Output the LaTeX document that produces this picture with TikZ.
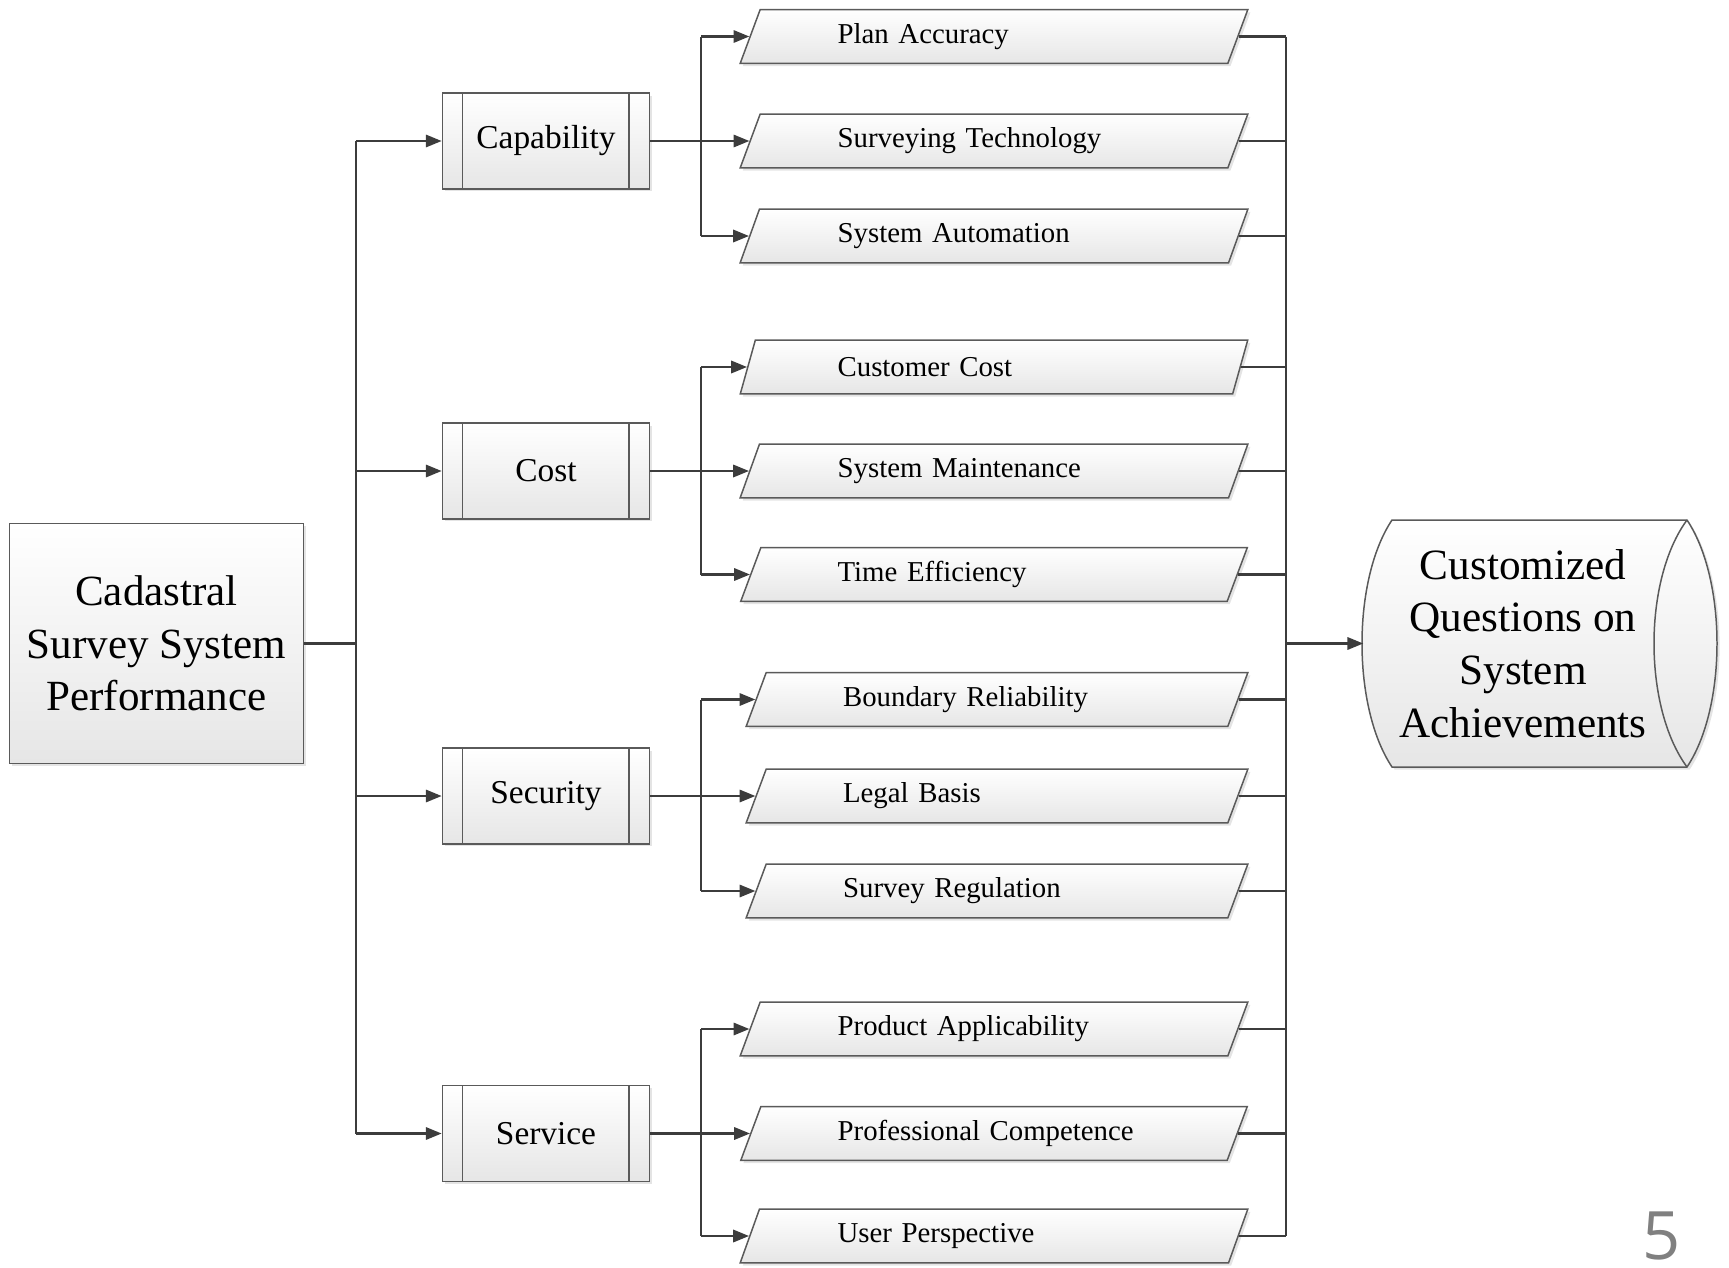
\documentclass[tikz,border=0pt]{standalone}
\usepackage{fontspec}
\setmainfont{Liberation Serif}
\newfontfamily\numfont{Open Sans}
\usetikzlibrary{shapes.geometric,arrows.meta,shadows}
\definecolor{linecol}{RGB}{60,60,60}
\definecolor{boxcol}{RGB}{90,90,90}
\definecolor{fillbot}{RGB}{230,230,230}
\definecolor{pagecol}{RGB}{128,128,128}
\tikzset{
  lw/.style={line width=1.3pt, draw=linecol},
  arr/.style={lw, -{Triangle[length=9pt,width=7pt]}},
  boxfill/.style={draw=boxcol, line width=0.85pt, top color=white, bottom color=fillbot,
    drop shadow={shadow xshift=1.5pt, shadow yshift=-1.5pt, opacity=0.3, fill=gray!70}},
  mainbox/.style={boxfill, rectangle, minimum width=167.2pt, minimum height=136.6pt,
    inner sep=0pt, align=center, font=\fontsize{24.5}{30}\selectfont},
  subbox/.style={boxfill, rectangle, minimum width=117.9pt, minimum height=54.4pt,
    inner sep=0pt, font=\fontsize{19}{23}\selectfont,
    path picture={
      \draw[boxcol, line width=0.85pt] ([xshift=11.3pt]path picture bounding box.north west) -- ([xshift=11.3pt]path picture bounding box.south west);
      \draw[boxcol, line width=0.85pt] ([xshift=-11.6pt]path picture bounding box.north east) -- ([xshift=-11.6pt]path picture bounding box.south east);
    }},
  para/.style={boxfill, trapezium, trapezium left angle=63, trapezium right angle=117,
    trapezium stretches=true, minimum width=289.1pt, minimum height=30.6pt,
    inner sep=0pt, text width=178pt, align=left, font=\fontsize{16.4}{20}\selectfont},
  paras/.style={para, minimum width=285.7pt, text width=175.2pt},
}
\begin{document}
\begin{tikzpicture}[x=0.02cm, y=-0.02cm]
\useasboundingbox (0,0) rectangle (1729,1268);

% main box
\node[mainbox] (main) at (156.5,643.5) {Cadastral\\Survey System\\Performance};

% second level
\node[subbox] (cap) at (546,141) {Capability};
\node[subbox] (cost) at (546,471) {Cost};
\node[subbox] (sec) at (546,796) {Security};
\node[subbox] (srv) at (546,1133.5) {Service};

% third level
\node[para] (p1) at (994,36.5) {Plan Accuracy};
\node[para] (p2) at (994,141) {Surveying Technology};
\node[para] (p3) at (994,236) {System Automation};
\node[para] (p4) at (994,367) {Customer Cost};
\node[para] (p5) at (994,471) {System Maintenance};
\node[para] (p6) at (994,574.5) {Time Efficiency};
\node[paras] (p7) at (997,699.5) {Boundary Reliability};
\node[paras] (p8) at (997,796) {Legal Basis};
\node[paras] (p9) at (997,891) {Survey Regulation};
\node[para] (p10) at (994,1029) {Product Applicability};
\node[para] (p11) at (994,1133.5) {Professional Competence};
\node[para] (p12) at (994,1236) {User Perspective};

% output shape
\path[boxfill] (1392,520) -- (1687,520) .. controls (1727,580) and (1727,707) .. (1687,767)
  -- (1392,767) .. controls (1352,707) and (1352,580) .. (1392,520) -- cycle;
\draw[boxcol, line width=0.85pt] (1687,520) .. controls (1643,580) and (1643,707) .. (1687,767);
\node[minimum width=181.4pt, minimum height=140pt, inner sep=0pt, align=center,
  font=\fontsize{24.6}{30}\selectfont] (out) at (1523,643.5)
  {Customized\\Questions on\\System\\Achievements};

% page number
\node[font=\numfont\fontsize{38}{40}\selectfont, text=pagecol, inner sep=0pt] (pg) at (1662,1236) {5};

% trunks
\coordinate (lt) at (356,643.5);
\coordinate (bx) at (701,0);
\coordinate (rt) at (1286,643.5);

% main -> second level
\draw[lw] (main.east) -- (lt);
\draw[lw] (cap.west -| lt) -- (srv.west -| lt);
\foreach \n in {cap,cost,sec,srv}{
  \draw[arr] (\n.west -| lt) -- (\n.west);
}

% second -> third level
\foreach \s/\a/\b/\c in {cap/p1/p2/p3, cost/p4/p5/p6, sec/p7/p8/p9, srv/p10/p11/p12}{
  \draw[lw] (\s.east) -- (\s.east -| bx);
  \draw[lw] (\a.west -| bx) -- (\c.west -| bx);
  \draw[arr] (\a.west -| bx) -- (\a.west);
  \draw[arr] (\b.west -| bx) -- (\b.west);
  \draw[arr] (\c.west -| bx) -- (\c.west);
}

% third level -> output
\foreach \p in {p1,p2,p3,p4,p5,p6,p7,p8,p9,p10,p11,p12}{
  \draw[lw] (\p.east) -- (\p.east -| rt);
}
\draw[lw] (p1.east -| rt) -- (p12.east -| rt);
\draw[arr] (rt) -- (out.west);
\end{tikzpicture}
\end{document}
